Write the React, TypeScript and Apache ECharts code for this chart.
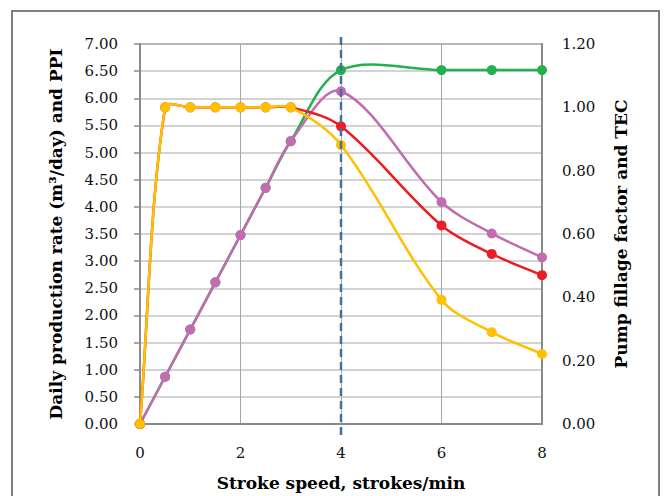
import React, { useEffect, useRef } from "react";
import * as echarts from "echarts";

const strokeSpeed = [0, 0.5, 1, 1.5, 2, 2.5, 3, 4, 6, 7, 8];
const theoreticalRate = [0, 0.87, 1.74, 2.61, 3.48, 4.35, 5.21, 6.52, 6.52, 6.52, 6.52];
const ppiRate = [0, 0.87, 1.74, 2.61, 3.48, 4.35, 5.21, 6.13, 4.09, 3.51, 3.07];
const tecValues = [0, 1, 1, 1, 1, 1, 1, 0.94, 0.627, 0.537, 0.47];
const fillageValues = [0, 1, 1, 1, 1, 1, 1, 0.881, 0.392, 0.29, 0.221];
const optimumSpeed = 4;

const leftTitle = "Daily production rate (m³/day) and PPI";
const rightTitle = "Pump fillage factor and TEC";
const xTitle = "Stroke speed, strokes/min";

const FONT = "DejaVu Serif";
const TENSION = 1 / 3;

const pairs = (ys: number[]) => strokeSpeed.map((x, i) => [x, ys[i]]);

// Excel-like smoothed segment between point i and i+1, in pixel space from the axis scales
function splineSegment(api: any, ys: number[], i: number) {
  const n = strokeSpeed.length;
  const P = (j: number) => api.coord([strokeSpeed[Math.max(0, Math.min(n - 1, j))], ys[Math.max(0, Math.min(n - 1, j))]]);
  const dist = (a: number[], b: number[]) => Math.hypot(a[0] - b[0], a[1] - b[1]);
  const p0 = P(i - 1), p1 = P(i), p2 = P(i + 1), p3 = P(i + 2);
  const d1a = dist(p0, p1), d1b = dist(p1, p2);
  const r1 = d1a + d1b > 0 ? d1b / (d1a + d1b) : 0;
  const c1 = [p1[0] + (p2[0] - p0[0]) * TENSION * r1, p1[1] + (p2[1] - p0[1]) * TENSION * r1];
  const d2a = dist(p1, p2), d2b = dist(p2, p3);
  const r2 = d2a + d2b > 0 ? d2a / (d2a + d2b) : 0;
  const c2 = [p2[0] - (p3[0] - p1[0]) * TENSION * r2, p2[1] - (p3[1] - p1[1]) * TENSION * r2];
  return { x1: p1[0], y1: p1[1], cpx1: c1[0], cpy1: c1[1], cpx2: c2[0], cpy2: c2[1], x2: p2[0], y2: p2[1] };
}

export default function App() {
  const ref = useRef<HTMLDivElement>(null);
  useEffect(() => {
    if (!ref.current) return;
    const chart = echarts.init(ref.current, null, { renderer: "svg" });
    const curve = (name: string, ys: number[], color: string, yAxisIndex: number, z: number) => ({
      name: name + " curve",
      type: "custom",
      yAxisIndex,
      z,
      data: pairs(ys),
      encode: { x: 0, y: 1 },
      renderItem: (params: any, api: any) => {
        const i = params.dataIndex;
        if (i >= strokeSpeed.length - 1) return null;
        return {
          type: "bezierCurve",
          shape: splineSegment(api, ys, i),
          style: { stroke: color, lineWidth: 2.5, fill: "none" },
        };
      },
    });
    const marks = (name: string, ys: number[], color: string, yAxisIndex: number, z: number) => ({
      name,
      type: "line",
      data: pairs(ys),
      yAxisIndex,
      symbol: "circle",
      symbolSize: 10,
      z,
      lineStyle: { width: 0, opacity: 0 },
      itemStyle: { color },
    });
    chart.setOption({
      animation: false,
      backgroundColor: "#ffffff",
      textStyle: { fontFamily: FONT },
      grid: {
        left: 140,
        width: 402,
        top: 44,
        height: 386,
        show: true,
        borderColor: "#8a8a8a",
        borderWidth: 2,
      },
      graphic: [
        {
          type: "rect",
          shape: { x: 12, y: 11, width: 647, height: 520 },
          style: { fill: "none", stroke: "#7f7f7f", lineWidth: 2 },
          silent: true,
        },
      ],
      xAxis: {
        type: "value",
        min: 0,
        max: 8,
        interval: 2,
        name: xTitle,
        nameLocation: "middle",
        nameGap: 50,
        nameTextStyle: { fontFamily: FONT, fontWeight: "bold", fontSize: 17, color: "#000" },
        axisLine: { show: true, lineStyle: { color: "#8a8a8a", width: 2 } },
        axisTick: { show: false },
        axisLabel: { margin: 21, fontFamily: FONT, fontSize: 15, color: "#111" },
        splitLine: { show: true, lineStyle: { color: "#a6a6a6", width: 1 } },
      },
      yAxis: [
        {
          type: "value",
          min: 0,
          max: 7,
          interval: 0.5,
          name: leftTitle,
          nameLocation: "middle",
          nameRotate: 90,
          nameGap: 76,
          nameTextStyle: { fontFamily: FONT, fontWeight: "bold", fontSize: 17, color: "#000" },
          axisLine: { show: true, lineStyle: { color: "#8a8a8a", width: 2 } },
          axisTick: { show: true, length: 6, lineStyle: { color: "#8a8a8a", width: 1.5 } },
          axisLabel: { margin: 22, fontFamily: FONT, fontSize: 15, color: "#111", formatter: (v: number) => v.toFixed(2) },
          splitLine: { show: true, lineStyle: { color: "#c4c4c4", width: 1.5 } },
        },
        {
          type: "value",
          min: 0,
          max: 1.2,
          interval: 0.2,
          position: "right",
          name: rightTitle,
          nameLocation: "middle",
          nameRotate: 90,
          nameGap: 70,
          nameTextStyle: { fontFamily: FONT, fontWeight: "bold", fontSize: 17, color: "#000" },
          axisLine: { show: true, lineStyle: { color: "#8a8a8a", width: 2 } },
          axisTick: { show: false },
          axisLabel: { margin: 20, fontFamily: FONT, fontSize: 15, color: "#111", formatter: (v: number) => v.toFixed(2) },
          splitLine: { show: false },
        },
      ],
      series: [
        curve("Theoretical rate", theoreticalRate, "#22b14c", 0, 2),
        marks("Theoretical rate", theoreticalRate, "#22b14c", 0, 2),
        curve("PPI", ppiRate, "#c36bb0", 0, 3),
        marks("PPI", ppiRate, "#c36bb0", 0, 3),
        curve("TEC", tecValues, "#ed1c24", 1, 4),
        marks("TEC", tecValues, "#ed1c24", 1, 4),
        curve("Pump fillage factor", fillageValues, "#ffc000", 1, 5),
        marks("Pump fillage factor", fillageValues, "#ffc000", 1, 5),
        {
          type: "custom",
          z: 10,
          clip: false,
          data: [[optimumSpeed, 7]],
          encode: { x: 0, y: 1 },
          renderItem: (params: any, api: any) => {
            const top = api.coord([api.value(0), 7]);
            const bot = api.coord([api.value(0), 0]);
            return {
              type: "line",
              shape: { x1: top[0], y1: top[1] - 7, x2: bot[0], y2: bot[1] + 12 },
              style: { stroke: "#41719c", lineWidth: 2.5, lineDash: [8, 5] },
            };
          },
        },
      ],
    });
    return () => chart.dispose();
  }, []);
  return (
    <div
      ref={ref}
      style={{ position: "fixed", left: 0, top: 0, width: 667, height: 496, background: "#fff" }}
    />
  );
}
